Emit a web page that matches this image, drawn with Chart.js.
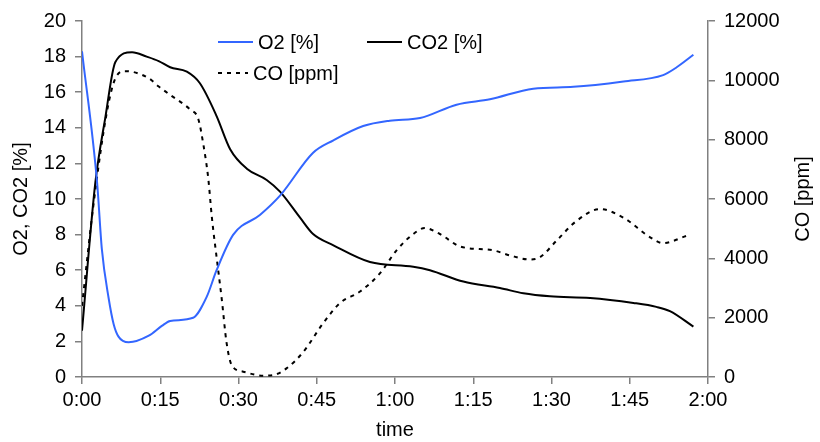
<!DOCTYPE html>
<html>
<head>
<meta charset="utf-8">
<script src="https://cdn.jsdelivr.net/npm/chart.js@4"></script>
<style>
  html, body { margin: 0; padding: 0; background: #fff; }
  #wrap { width: 820px; height: 442px; }
</style>
</head>
<body>
<div id="wrap"><canvas id="chart" width="820" height="442"></canvas></div>
<script>
// time in minutes
const xTickLabels = ['0:00', '0:15', '0:30', '0:45', '1:00', '1:15', '1:30', '1:45', '2:00'];

const o2Time = [0, 2.9, 3.8, 5.1, 6.07, 7.0, 8.95, 12.8, 15.3, 16.9, 21.3, 23.9, 25.8, 29, 34.1, 38, 44.3, 48.2, 53.9, 59, 64.8, 71.8, 78.2, 86.5, 94.2, 103.8, 111.4, 114, 117.2];
const o2Values = [18.3, 10.9, 7.2, 4.44, 2.97, 2.27, 1.95, 2.32, 2.87, 3.15, 3.33, 4.5, 6.0, 8.0, 9.1, 10.2, 12.6, 13.3, 14.1, 14.4, 14.55, 15.3, 15.6, 16.2, 16.3, 16.6, 16.96, 17.4, 18.1];

const co2Time = [0, 2.55, 4.47, 6.4, 9.6, 12.4, 14.7, 16.9, 20.1, 22.6, 25.8, 28.4, 31.6, 35.4, 38, 41.8, 44.3, 48.2, 55.2, 63.5, 66.7, 73.1, 80.1, 84.6, 89.7, 97.4, 105.7, 110.1, 112.7, 117.2];
const co2Values = [2.6, 10.9, 14.57, 17.7, 18.25, 18.0, 17.75, 17.4, 17.15, 16.5, 14.66, 12.8, 11.7, 11.07, 10.4, 8.95, 8.03, 7.4, 6.46, 6.2, 6.0, 5.36, 5.0, 4.7, 4.53, 4.44, 4.16, 3.94, 3.7, 2.83];

const coTime = [0, 2.2, 4.8, 6.4, 8.3, 12.8, 14.7, 16.9, 20.7, 22.3, 23.3, 24.2, 24.9, 25.8, 26.8, 27.7, 28.7, 30.9, 34.7, 36.7, 39.2, 42.4, 46.3, 49.5, 53.3, 57.1, 60.3, 63.5, 65.7, 68.6, 72.5, 78.8, 82, 85.9, 87.8, 91, 94.8, 99.3, 103.8, 108.9, 111.4, 115.9];
const coValues = [2400, 5810, 8960, 10070, 10310, 10070, 9790, 9510, 9020, 8690, 7800, 6700, 5370, 4040, 2610, 1170, 400, 180, 45, 66, 290, 840, 1830, 2500, 2880, 3490, 4270, 4820, 5020, 4820, 4400, 4270, 4100, 3960, 4040, 4600, 5260, 5660, 5370, 4710, 4510, 4760];

const toPoints = (xs, ys) => xs.map((x, i) => ({ x: x, y: ys[i] }));

const FONT = 'Liberation Sans, Arial, sans-serif';
const axisGray = '#808080';

// legend drawn by hand so it sits in two rows like the original
const legendItems = [
    { label: 'O2 [%]', ds: 0, x: 218, y: 42, len: 35 },
    { label: 'CO2 [%]', ds: 1, x: 367, y: 42, len: 35 },
    { label: 'CO [ppm]', ds: 2, x: 218, y: 73, len: 30 }
];

const legendPlugin = {
    id: 'handLegend',
    afterDraw(chart) {
        const ctx = chart.ctx;
        ctx.save();
        ctx.font = '20px ' + FONT;
        ctx.textBaseline = 'middle';
        legendItems.forEach(item => {
            const ds = chart.data.datasets[item.ds];
            ctx.beginPath();
            ctx.strokeStyle = ds.borderColor;
            ctx.lineWidth = ds.borderWidth;
            ctx.setLineDash(ds.borderDash || []);
            ctx.moveTo(item.x, item.y);
            ctx.lineTo(item.x + item.len, item.y);
            ctx.stroke();
            ctx.setLineDash([]);
            ctx.fillStyle = '#000';
            ctx.fillText(item.label, item.x + item.len + 5, item.y + 1);
        });

        // right axis title reads bottom-to-top, like the left one
        const area = chart.chartArea;
        ctx.translate(803, (area.top + area.bottom) / 2);
        ctx.rotate(-Math.PI / 2);
        ctx.textAlign = 'center';
        ctx.fillText('CO [ppm]', 0, 0);
        ctx.restore();
    }
};

const ctx = document.getElementById('chart').getContext('2d');
new Chart(ctx, {
    type: 'line',
    data: {
        datasets: [
            {
                label: 'O2 [%]',
                data: toPoints(o2Time, o2Values),
                borderColor: '#3366FF',
                borderWidth: 2,
                yAxisID: 'y'
            },
            {
                label: 'CO2 [%]',
                data: toPoints(co2Time, co2Values),
                borderColor: '#000000',
                borderWidth: 2,
                yAxisID: 'y'
            },
            {
                label: 'CO [ppm]',
                data: toPoints(coTime, coValues),
                borderColor: '#000000',
                borderWidth: 2,
                borderDash: [4, 5],
                yAxisID: 'y1'
            }
        ]
    },
    options: {
        responsive: false,
        animation: false,
        layout: { padding: { top: 15, left: 0, right: 0, bottom: 0 } },
        elements: {
            point: { radius: 0 },
            line: { cubicInterpolationMode: 'monotone' }
        },
        plugins: {
            legend: { display: false },
            tooltip: { enabled: false }
        },
        scales: {
            x: {
                type: 'linear',
                min: 0,
                max: 120,
                afterFit: scale => { scale.height = 65; },
                ticks: {
                    stepSize: 15,
                    color: '#000',
                    font: { family: FONT, size: 20 },
                    padding: 4,
                    maxRotation: 0,
                    callback: (v, i) => xTickLabels[i]
                },
                grid: { drawOnChartArea: false, color: axisGray, tickLength: 7, lineWidth: 1.5 },
                border: { color: axisGray, width: 1.5 },
                title: {
                    display: true,
                    text: 'time',
                    color: '#000',
                    font: { family: FONT, size: 20 },
                    padding: { top: 0, bottom: 0 }
                }
            },
            y: {
                position: 'left',
                min: 0,
                max: 20,
                afterFit: scale => { scale.width = 82; },
                ticks: {
                    stepSize: 2,
                    color: '#000',
                    font: { family: FONT, size: 20 },
                    padding: 9
                },
                grid: { drawOnChartArea: false, color: axisGray, tickLength: 7, lineWidth: 1.5 },
                border: { color: axisGray, width: 1.5 },
                title: {
                    display: true,
                    text: 'O2, CO2 [%]',
                    color: '#000',
                    font: { family: FONT, size: 20 },
                    padding: { top: 9, bottom: 0 }
                }
            },
            y1: {
                position: 'right',
                min: 0,
                max: 12000,
                afterFit: scale => { scale.width = 112; },
                ticks: {
                    stepSize: 2000,
                    color: '#000',
                    font: { family: FONT, size: 20 },
                    padding: 9,
                    callback: v => String(v)
                },
                grid: { drawOnChartArea: false, color: axisGray, tickLength: 7, lineWidth: 1.5 },
                border: { color: axisGray, width: 1.5 }
            }
        }
    },
    plugins: [legendPlugin]
});
</script>
</body>
</html>
